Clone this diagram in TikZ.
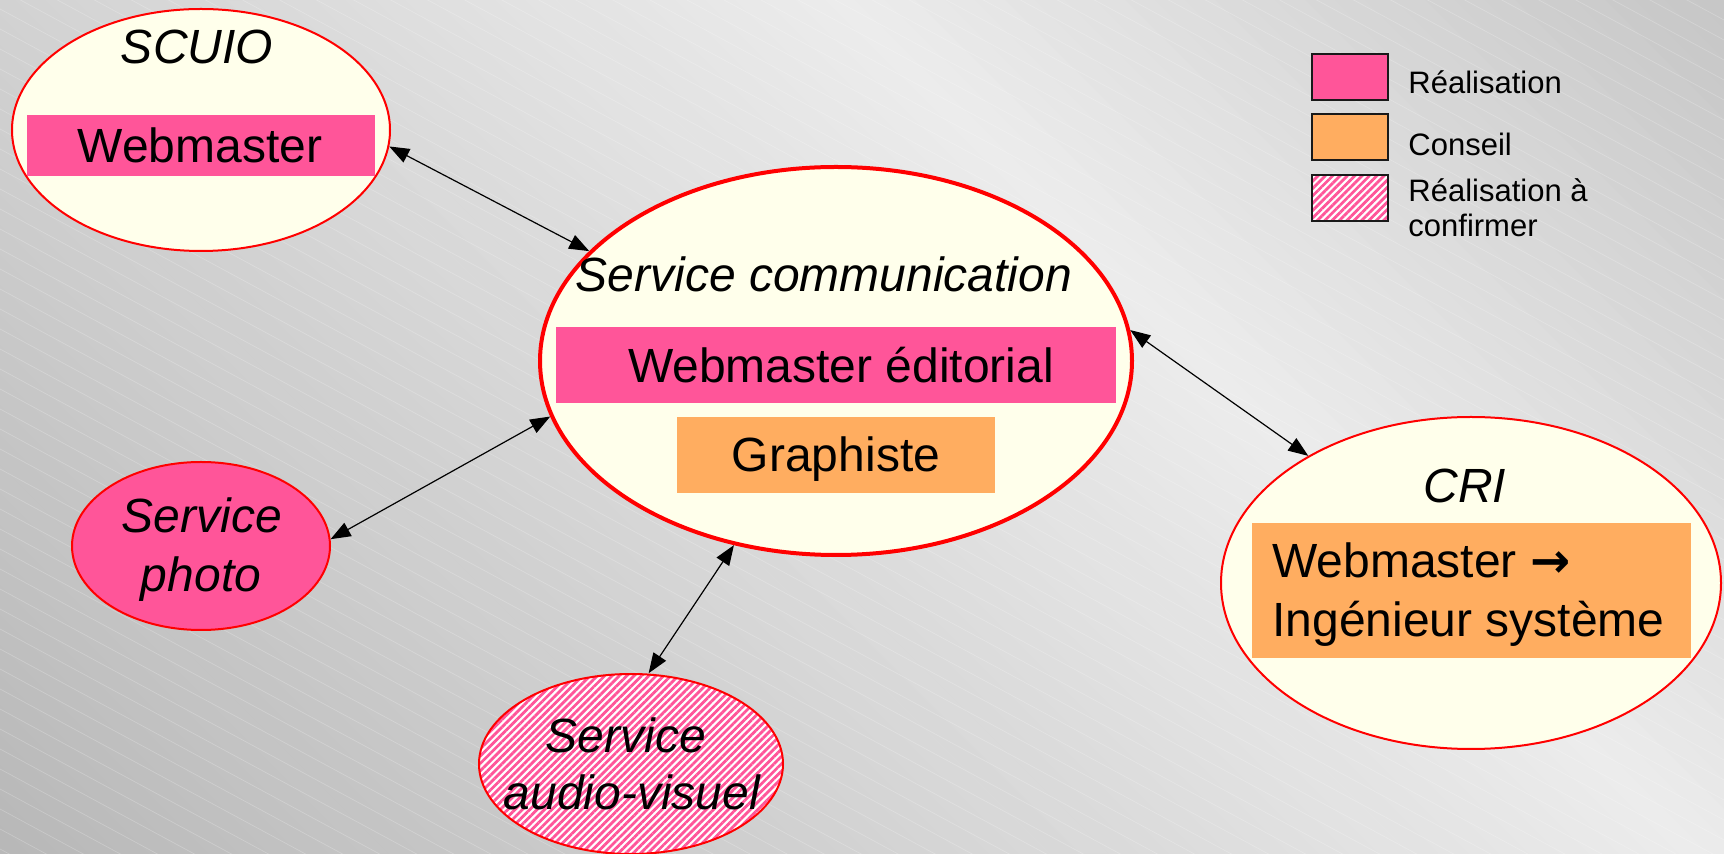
\documentclass[tikz,border=0pt]{standalone}
\usepackage{fontspec}
\setmainfont{Liberation Sans}
\newfontfamily\arrowfont{DejaVu Sans}
\usetikzlibrary{shapes.geometric,arrows.meta,patterns.meta}
\definecolor{rose}{HTML}{FF5599}
\definecolor{orangec}{HTML}{FFAD60}
\definecolor{creme}{HTML}{FFFFEB}
\begin{document}
\begin{tikzpicture}[x=0.5pt,y=-0.5pt,
  ell/.style={ellipse, draw=red, line width=1pt, fill=creme, inner sep=0pt},
  rolebox/.style={rectangle, inner sep=0pt, draw=none},
  big/.style={font=\fontsize{24}{29}\selectfont, anchor=base, inner sep=0pt},
  bigit/.style={font=\fontsize{24}{29}\selectfont\itshape, anchor=base, inner sep=0pt},
  legtext/.style={font=\fontsize{15.5}{18}\selectfont, anchor=base west, inner sep=0pt},
  legbox/.style={rectangle, draw=black!90, line width=0.75pt, minimum width=38pt, minimum height=23pt, inner sep=0pt},
  link/.style={line width=0.6pt, {Triangle[length=10pt,width=7.5pt]}-{Triangle[length=10pt,width=7.5pt]}},
  hatch/.style={preaction={fill=white}, pattern={Lines[angle=45,distance=2.6pt,line width=1.4pt]}, pattern color=rose}
]
\useasboundingbox (0,0) rectangle (1724,854);
% background gradient (dark bottom-left, light band, darker top-right)
\begin{scope}
  \clip (0,0) rectangle (1724,854);
  \foreach \i in {0,...,85} {
    \pgfmathsetmacro\a{-854+\i*30}
    \pgfmathsetmacro\t{(\a+15+854)/2578}
    \pgfmathsetmacro\v{\t<0.66 ? (184+(\t/0.66)*52)/255 : (236-((\t-0.66)/0.34)*38)/255}
    \definecolor{stripc}{gray}{\v}
    \fill[stripc, draw=stripc, line width=0.6pt] (\a,0) -- ({\a+30},0) -- ({\a+30+854},854) -- ({\a+854},854) -- cycle;
  }
  \foreach \i in {0,...,90} {
    \draw[white, opacity=0.22, line width=0.35pt] (0,{-931+\i*20}) -- (1724,{\i*20});
  }
\end{scope}

% SCUIO
\node[ell, minimum width=189pt, minimum height=121pt] (scuio) at (201,130) {};
\node[rolebox, fill=rose, minimum width=174pt, minimum height=30.5pt] (scuiowm) at (201,145.5) {};
\node[bigit] (scuiot) at (197,64) {SCUIO};
\node[big] (scuiowmt) at (200,163) {Webmaster};

% Service communication
\node[ell, line width=2pt, minimum width=296pt, minimum height=194pt] (comm) at (836,361) {};
\node[rolebox, fill=rose, minimum width=280pt, minimum height=38pt] (commwm) at (836,365) {};
\node[rolebox, fill=orangec, minimum width=159pt, minimum height=38pt] (commgr) at (836,455) {};
\node[bigit] (commt) at (824,292) {Service communication};
\node[big] (commwmt) at (841,383) {Webmaster éditorial};
\node[big] (commgrt) at (836,472) {Graphiste};

% Service photo
\node[ell, fill=rose, minimum width=129pt, minimum height=84pt] (photo) at (201,546) {};
\node[bigit] (photot1) at (202,533) {Service};
\node[bigit] (photot2) at (201,592) {photo};

% Service audio-visuel
\node[ell, hatch, minimum width=152pt, minimum height=90pt] (audio) at (631,764) {};
\node[bigit] (audiot1) at (626,753) {Service};
\node[bigit] (audiot2) at (632,810) {audio-visuel};

% CRI
\node[ell, minimum width=250pt, minimum height=166pt] (cri) at (1471,583) {};
\node[rolebox, fill=orangec, minimum width=219.5pt, minimum height=67.5pt] (cribox) at (1471.5,590.5) {};
\node[bigit] (crit) at (1465,503) {CRI};
\node[big, anchor=base west] (crit1) at (1272,578) {Webmaster {\arrowfont\bfseries →}};
\node[big, anchor=base west] (crit2) at (1272,637) {Ingénieur système};

% legend
\node[legbox, fill=rose] (l1) at (1350,77) {};
\node[legbox, fill=orangec] (l2) at (1350,137) {};
\node[legbox, hatch] (l3) at (1350,198) {};
\node[legtext] (lt1) at (1408,94) {Réalisation};
\node[legtext] (lt2) at (1408,156) {Conseil};
\node[legtext] (lt3) at (1408,202) {Réalisation à};
\node[legtext] (lt4) at (1408,237) {confirmer};

% links
\draw[link] (scuio.-5) -- (comm.156);
\draw[link] (photo.3.5) -- (comm.191.5);
\draw[link] (audio.79) -- (comm.-119);
\draw[link] (comm.6.7) -- (cri.142.6);
\end{tikzpicture}
\end{document}
